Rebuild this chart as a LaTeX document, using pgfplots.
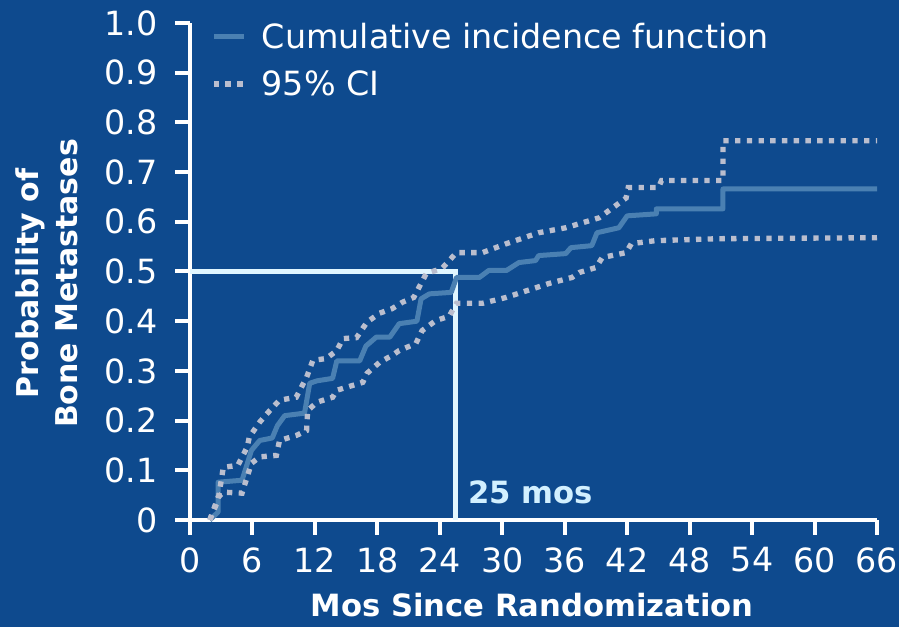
\documentclass[border=0pt]{standalone}
\usepackage{pgfplots}
\pgfplotsset{compat=1.18}
\usepackage{fontspec}
\setmainfont{DejaVu Sans}

\definecolor{bgblue}{RGB}{14,74,142}
\definecolor{cifblue}{RGB}{74,128,178}
\definecolor{cigray}{RGB}{186,190,206}
\definecolor{refcyan}{RGB}{224,246,255}
\definecolor{notecyan}{RGB}{210,240,255}

\begin{document}
\begin{tikzpicture}
\fill[bgblue] (0,0) rectangle (674.25pt,470.25pt);
\useasboundingbox (0,0) rectangle (674.25pt,470.25pt);
\begin{axis}[
  at={(142.5pt,80.25pt)}, anchor=south west,
  scale only axis, width=515.25pt, height=372.75pt,
  xmin=0, xmax=66, ymin=0, ymax=1,
  clip=false,
  axis lines=left,
  axis line style={-, white, line width=3.5pt},
  xtick={0,6,12,18,24,30,36,42,48,54,60,66},
  ytick={0,0.1,0.2,0.3,0.4,0.5,0.6,0.7,0.8,0.9,1.0},
  yticklabels={0,0.1,0.2,0.3,0.4,0.5,0.6,0.7,0.8,0.9,1.0},
  tick align=outside,
  major tick length=11pt,
  tick style={white, line width=3pt},
  /pgf/number format/assume math mode=true,
  ticklabel style={font=\fontsize{25}{30}\selectfont, text=white},
  xticklabel style={yshift=-6pt},
  yticklabel style={xshift=-10pt},
  xlabel={Mos Since Randomization},
  xlabel style={at={(axis description cs:0.498,-0.171)}, anchor=center,
    font=\bfseries\fontsize{23}{28}\selectfont, text=white},
  ylabel={Probability of\\Bone Metastases},
  ylabel style={at={(axis description cs:-0.208,0.476)}, anchor=center,
    align=center, font=\bfseries\fontsize{22.5}{29}\selectfont, text=white},
  legend style={at={(axis cs:2.0,1.0)}, anchor=north west, draw=none, fill=none,
    inner sep=0pt, row sep=15pt, column sep=11pt,
    font=\fontsize{25}{30}\selectfont, text=white,
    nodes={inner sep=0pt}},
  legend cell align=left,
  legend image code/.code={\draw[#1] (0pt,0pt) -- (23pt,0pt);},
]
% reference lines marking the median time
\addplot[refcyan, line width=4pt, forget plot] coordinates {(0,0.5) (25.5,0.5) (25.5,0)};

% cumulative incidence
\addplot[cifblue, line width=3.75pt, line join=round] coordinates {
(1.9,0) (2.7,0.016) (2.7,0.076) (5.0,0.08) (5.9,0.14) (6.7,0.16) (7.9,0.165)
(8.4,0.19) (9.1,0.21) (11.0,0.215) (11.5,0.275) (12.2,0.28) (13.7,0.285)
(14.1,0.32) (16.3,0.32) (16.9,0.35) (17.9,0.368) (19.2,0.368) (20.1,0.395)
(21.8,0.40) (22.2,0.445) (23.0,0.455) (25.1,0.458) (25.6,0.488) (27.8,0.488)
(28.7,0.502) (30.4,0.502) (31.6,0.518) (33.2,0.522) (33.5,0.532) (36.1,0.536)
(36.6,0.548) (38.6,0.552) (39.1,0.578) (41.2,0.588) (42.0,0.612) (44.8,0.616)
(44.8,0.626) (51.2,0.626) (51.2,0.666) (66,0.666)};
\addlegendentry{Cumulative incidence function}

% upper 95% confidence limit
\addplot[cigray, line width=4pt, dash pattern=on 4pt off 4.8pt] coordinates {
(1.9,0) (2.7,0.04) (3.2,0.106) (4.6,0.11) (5.5,0.147) (5.7,0.167) (6.7,0.197)
(7.7,0.221) (8.6,0.241) (10.2,0.247) (11.2,0.287) (11.8,0.321) (13.1,0.325)
(14.1,0.341) (14.7,0.365) (16.0,0.367) (17.0,0.398) (18.2,0.416) (19.4,0.425)
(20.4,0.438) (21.5,0.448) (22.0,0.468) (22.7,0.496) (24.2,0.506) (25.6,0.538)
(28.1,0.538) (30.4,0.556) (33.5,0.578) (36.1,0.588) (39.3,0.608) (41.9,0.648)
(42.1,0.669) (45.0,0.669) (45.3,0.683) (51.2,0.683) (51.2,0.763) (66,0.763)};
\addlegendentry{95\% CI}

% lower 95% confidence limit
\addplot[cigray, line width=4pt, dash pattern=on 4pt off 4.8pt, forget plot] coordinates {
(1.9,0) (2.7,0.046) (3.2,0.056) (5.0,0.054) (5.9,0.114) (6.7,0.127) (8.3,0.13)
(8.6,0.16) (10.2,0.17) (11.2,0.18) (11.3,0.22) (12.2,0.237) (13.7,0.247)
(14.1,0.261) (16.6,0.277) (17.0,0.295) (18.2,0.317) (19.4,0.331) (20.1,0.341)
(21.7,0.355) (22.3,0.381) (23.6,0.401) (24.9,0.41) (25.6,0.436) (28.1,0.436)
(30.4,0.448) (34.5,0.476) (36.7,0.488) (37.4,0.498) (39.0,0.508) (39.6,0.528)
(41.9,0.538) (42.4,0.556) (44.7,0.562) (50.8,0.566) (66,0.568)};

\node[anchor=west, inner sep=0pt, text=notecyan,
  font=\bfseries\fontsize{23}{28}\selectfont] at (axis cs:26.7,0.056) {25 mos};
\end{axis}
\end{tikzpicture}
\end{document}
